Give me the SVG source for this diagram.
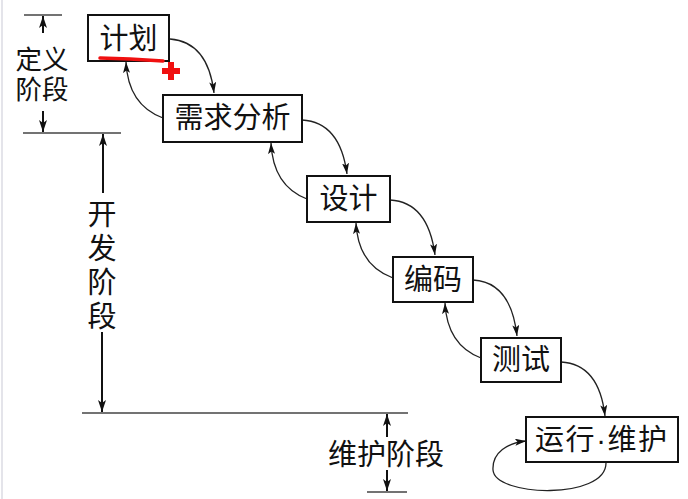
<svg xmlns="http://www.w3.org/2000/svg" width="688" height="499" viewBox="0 0 688 499">
<defs>
<marker id="ah" viewBox="0 0 11 7" refX="11" refY="3.5" markerWidth="11" markerHeight="7" markerUnits="userSpaceOnUse" orient="auto">
<path d="M0,0 L11,3.5 L0,7 L2.5,3.5 Z" fill="#111"/>
</marker>
<marker id="dh" viewBox="0 0 12 8" refX="12" refY="4" markerWidth="12" markerHeight="8" markerUnits="userSpaceOnUse" orient="auto">
<path d="M0,0 L12,4 L0,8 L3,4 Z" fill="#111"/>
</marker>
<style>
.box{fill:#fff;stroke:#111;stroke-width:2}
.t{font-family:"Liberation Sans","Noto Sans CJK SC","Noto Sans CJK JP",sans-serif;font-size:29px;fill:#111;text-anchor:middle;dominant-baseline:central}
.s{font-size:26.5px}
.c{fill:none;stroke:#222;stroke-width:1.3;marker-end:url(#ah)}
.sep{stroke:#444;stroke-width:1.6;fill:none}
.dim{stroke:#111;stroke-width:2;fill:none;marker-end:url(#dh)}
</style>
</defs>
<rect width="688" height="499" fill="#fff"/>
<line x1="2" y1="0" x2="2" y2="499" stroke="#e4e4ea" stroke-width="2"/>

<g id="phases">
<line class="sep" x1="24" y1="15" x2="62" y2="15"/>
<line class="sep" x1="23" y1="133" x2="121" y2="133"/>
<line class="sep" x1="82" y1="413" x2="408" y2="413"/>
<line class="sep" x1="367" y1="492" x2="407" y2="492"/>
<line class="dim" x1="43" y1="33" x2="43" y2="16"/>
<line class="dim" x1="43" y1="111" x2="43" y2="132"/>
<line class="dim" x1="103" y1="193" x2="103" y2="134"/>
<line class="dim" x1="102" y1="332" x2="102" y2="412"/>
<line class="dim" x1="387" y1="437" x2="387" y2="414"/>
<line class="dim" x1="387" y1="470" x2="387" y2="491"/>
<text class="t s" x="42" y="60">定义<tspan x="42" dy="30">阶段</tspan></text>
<text class="t" x="102" y="215">开<tspan x="102" dy="34">发</tspan><tspan x="102" dy="34">阶</tspan><tspan x="102" dy="34">段</tspan></text>
<text class="t" x="386" y="455">维护阶段</text>
</g>

<g id="connectors">
<path class="c" d="M170,39 Q208,42 214,93"/>
<path class="c" d="M302,120 Q340,122 347,174"/>
<path class="c" d="M390,200 Q428,202 435,255"/>
<path class="c" d="M473,280 Q511,282 517,336"/>
<path class="c" d="M561,362 Q599,364 605,416"/>
<path class="c" d="M163,118 Q128,105 126,62"/>
<path class="c" d="M307,199 Q273,186 271,143"/>
<path class="c" d="M393,278 Q358,265 356,223"/>
<path class="c" d="M481,358 Q447,345 445,303"/>
<path class="c" d="M606,463 C606,500 495,497 493,470 C492,452 508,443 526,441"/>
</g>

<g id="plan"><rect class="box" x="88" y="15" width="81" height="46"/><text class="t" x="128.5" y="39">计划</text></g>
<g id="analysis"><rect class="box" x="163" y="95" width="139" height="47"/><text class="t" x="232.5" y="118">需求分析</text></g>
<g id="design"><rect class="box" x="307" y="176" width="83" height="46"/><text class="t" x="348.5" y="199">设计</text></g>
<g id="coding"><rect class="box" x="393" y="257" width="80" height="45"/><text class="t" x="433" y="280">编码</text></g>
<g id="testing"><rect class="box" x="481" y="338" width="80" height="44"/><text class="t" x="521" y="360">测试</text></g>
<g id="maintenance"><rect class="box" x="526" y="417" width="152" height="45"/><text class="t" x="601" y="440" textLength="132" lengthAdjust="spacing">运行·维护</text></g>

<g id="annotation">
<path d="M100,58 L130,59 L163,61" fill="none" stroke="#f01010" stroke-width="3.5" stroke-linecap="round"/>
<path d="M171,62 V80 M162,71 H180" stroke="#f01010" stroke-width="6"/>
</g>
</svg>
